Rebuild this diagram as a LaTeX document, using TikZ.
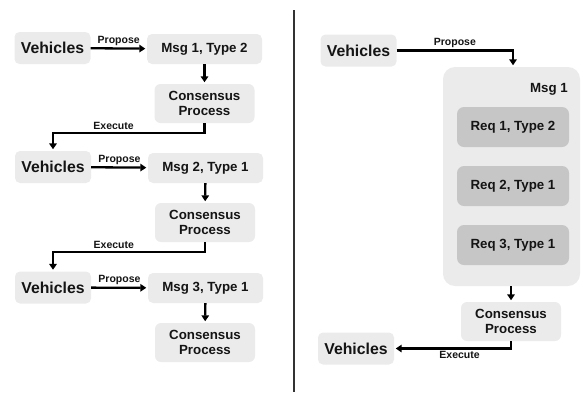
\documentclass[tikz,border=0pt]{standalone}
\usepackage{fontspec}
\setmainfont{Liberation Sans}
\usetikzlibrary{arrows.meta,positioning,calc}
\definecolor{boxgray}{HTML}{EBEBEB}
\definecolor{reqgray}{HTML}{C6C6C6}
\definecolor{inkgray}{HTML}{141414}
\tikzset{
  vehbox/.style ={fill=boxgray, rounded corners=5pt, inner sep=0pt,
                  minimum width=76pt, minimum height=32pt, text=inkgray,
                  font=\bfseries\fontsize{15.8}{17}\selectfont},
  msgbox/.style ={fill=boxgray, rounded corners=5pt, inner sep=0pt,
                  minimum width=115pt, minimum height=30pt, text=inkgray,
                  font=\bfseries\fontsize{13.3}{14.5}\selectfont},
  consbox/.style={fill=boxgray, rounded corners=6pt, inner sep=0pt,
                  minimum width=100pt, minimum height=39pt, text=inkgray,
                  align=center,
                  font=\bfseries\fontsize{13.3}{14.5}\selectfont},
  reqbox/.style ={fill=reqgray, rounded corners=7pt, inner sep=0pt,
                  minimum width=112pt, minimum height=40pt, text=inkgray,
                  font=\bfseries\fontsize{13.3}{14.5}\selectfont},
  outerbox/.style={fill=boxgray, rounded corners=12pt, inner sep=0pt,
                  minimum width=137pt, minimum height=219pt},
  flow/.style   ={-{Triangle[length=6pt,width=7.5pt]}, line width=2.3pt,
                  shorten >=1.5pt, black},
  lbl/.style    ={font=\bfseries\fontsize{10.5}{12}\selectfont,
                  text=inkgray, inner sep=2pt},
  divider/.style={line width=1.3pt, black!80},
}
\begin{document}
\begin{tikzpicture}[x=1pt,y=-1pt]
  \useasboundingbox (0,0) rectangle (581,392);
  % left: one message per request
  \node[vehbox]  (veh1)  at (52.5,48)  {Vehicles};
  \node[msgbox]  (msg1)  at (204.5,49) {Msg 1, Type 2};
  \node[consbox] (cons1) at (204.5,103.5) {Consensus\\Process};
  \node[vehbox]  (veh2)  at (53,167)   {Vehicles};
  \node[msgbox]  (msg2)  at (205.5,168) {Msg 2, Type 1};
  \node[consbox] (cons2) at (205,222.5) {Consensus\\Process};
  \node[vehbox]  (veh3)  at (53,287.5) {Vehicles};
  \node[msgbox]  (msg3)  at (205.5,288) {Msg 3, Type 1};
  \node[consbox] (cons3) at (205,342.5) {Consensus\\Process};
  \draw[flow] (veh1) -- node[lbl, above] {Propose} (msg1);
  \draw[flow] (msg1) -- (cons1);
  \draw[flow] (cons1.south) -- ++(0,10) -| node[lbl, pos=0.3, above] {Execute} (veh2.north);
  \draw[flow] (veh2) -- node[lbl, above] {Propose} (msg2);
  \draw[flow] (msg2) -- (cons2);
  \draw[flow] (cons2.south) -- ++(0,10) -| node[lbl, pos=0.3, above] {Execute} (veh3.north);
  \draw[flow] (veh3) -- node[lbl, above] {Propose} (msg3);
  \draw[flow] (msg3) -- (cons3);
  % divider
  \coordinate (divtop) at (294,10);
  \coordinate (divbot) at (294,392);
  \draw[divider] (divtop) -- (divbot);
  % right: one message carrying several requests
  \node[vehbox]   (rveh1)  at (358.5,50.5) {Vehicles};
  \node[outerbox] (batch)  at (511.5,176.5) {};
  \node[font=\bfseries\fontsize{13.3}{14.5}\selectfont, text=inkgray,
        anchor=east, inner sep=0pt] (batchlbl) at (568,89) {Msg 1};
  \node[reqbox]   (req1)   at (513,127) {Req 1, Type 2};
  \node[reqbox]   (req2)   at (513,186) {Req 2, Type 1};
  \node[reqbox]   (req3)   at (513,245) {Req 3, Type 1};
  \node[consbox]  (rcons)  at (511,321.5) {Consensus\\Process};
  \node[vehbox]   (rveh2)  at (356,348.5) {Vehicles};
  \draw[flow] (rveh1.east) -| node[lbl, pos=0.25, above] {Propose} (req1 |- batch.north);
  \draw[flow] (batch.south -| rcons.north) -- (rcons.north);
  \draw[flow] (rcons.south) |- node[lbl, pos=0.72, below] {Execute} (rveh2.east);
\end{tikzpicture}
\end{document}
